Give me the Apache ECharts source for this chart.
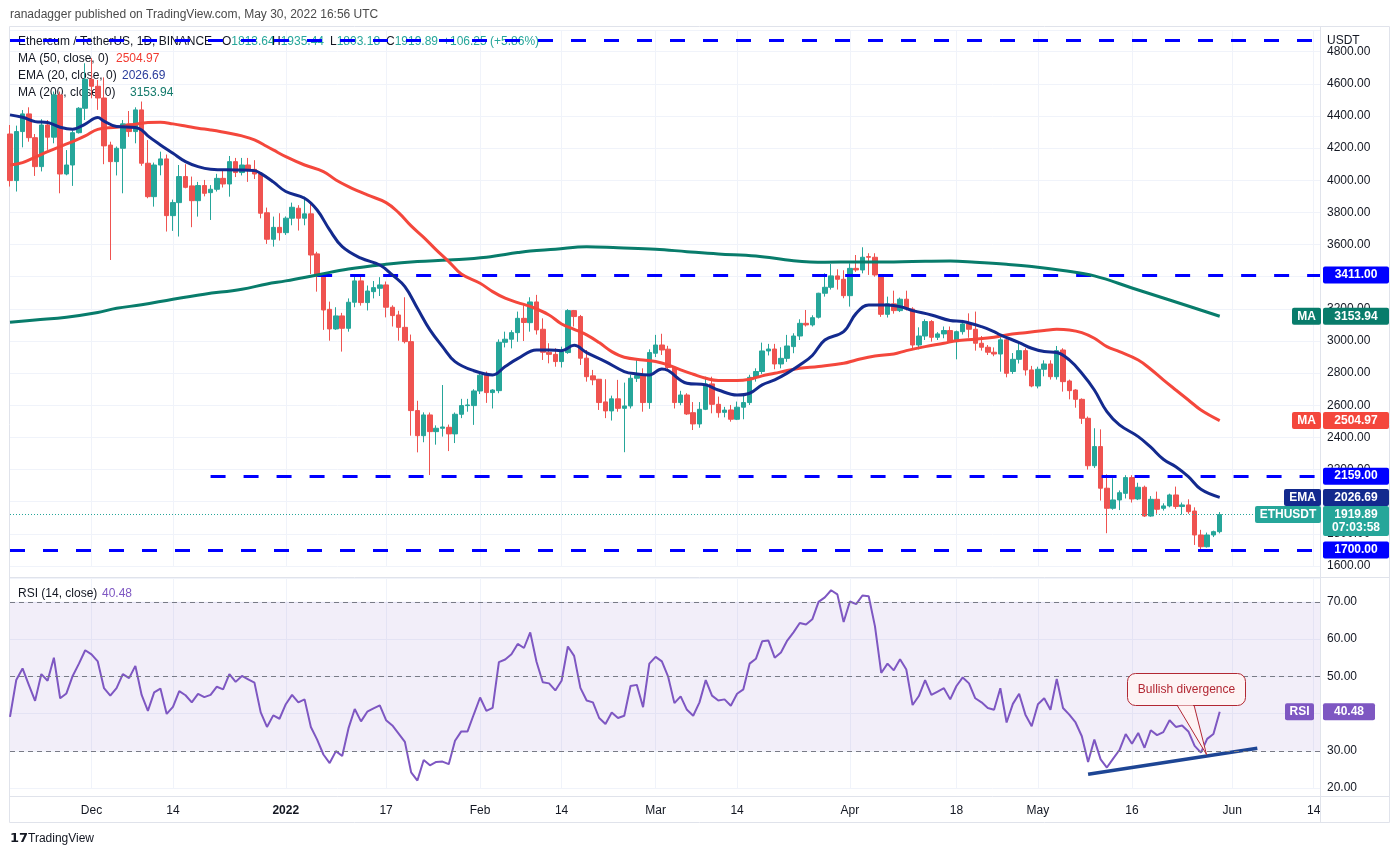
<!DOCTYPE html>
<html>
<head>
<meta charset="utf-8">
<script src="https://cdn.jsdelivr.net/npm/echarts@6/dist/echarts.min.js"></script>
<style>
html,body{margin:0;padding:0;background:#fff}
#chart{width:1392px;height:857px}
</style>
</head>
<body>
<div id="chart"></div>
<script>
// ETH/USDT daily, 18 Nov 2021 -> 30 May 2022
const FONT = 'Liberation Sans, Arial, sans-serif';

const categories = [];
for (let k = 0; k < 210; k++) {
    const d = new Date(Date.UTC(2021, 10, 18 + k));
    categories.push(d.toISOString().slice(0, 10));
}

const tickLabels = [
    ['2021-12-01','Dec'],['2021-12-14','14'],['2022-01-01','2022'],['2022-01-17','17'],
    ['2022-02-01','Feb'],['2022-02-14','14'],['2022-03-01','Mar'],['2022-03-14','14'],
    ['2022-04-01','Apr'],['2022-04-18','18'],['2022-05-01','May'],['2022-05-16','16'],
    ['2022-06-01','Jun'],['2022-06-14','14']
];

const opens = [
    4288,3998,4303,4413,4265,4085,4344,4268,4531,4039,
    4095,4296,4448,4628,4585,4512,4219,4116,4199,4351,
    4303,4438,4106,3898,4095,4133,3780,3861,4023,3965,
    3873,3967,3923,3944,4012,3977,4116,4048,4095,4068,
    4039,3798,3633,3707,3674,3764,3826,3764,3791,3542,
    3411,3197,3075,3156,3079,3241,3374,3239,3307,3328,
    3349,3210,3162,3085,2996,2567,2411,2540,2436,2457,
    2463,2422,2544,2598,2598,2689,2787,2679,2691,2992,
    3011,3052,3141,3114,3243,3073,2930,2917,2872,2928,
    3189,3152,2893,2783,2762,2621,2565,2640,2581,2596,
    2768,2785,2617,2924,2975,2949,2835,2617,2664,2554,
    2484,2575,2733,2606,2556,2571,2513,2588,2617,2774,
    2810,2938,2950,2857,2892,2965,3031,3110,3100,3148,
    3297,3334,3405,3384,3282,3452,3442,3525,3521,3411,
    3166,3231,3189,3260,3199,2975,3031,3121,3023,3044,
    3065,2996,3058,3106,3073,2986,2961,2930,2919,3007,
    2810,2886,2940,2820,2720,2824,2857,2778,2944,2751,
    2695,2637,2519,2224,2343,2084,1959,2011,2052,2150,
    2017,2090,1911,2015,1959,1974,2042,1970,1980,1942,
    1793,1720,1793,1813.64
];
const closes = [
    3998,4303,4413,4265,4085,4344,4268,4531,4039,4095,
    4296,4448,4628,4585,4512,4214,4116,4199,4351,4303,
    4438,4106,3898,4095,4133,3780,3861,4023,3956,3873,
    3967,3919,3944,4012,3977,4116,4048,4095,4064,4039,
    3795,3633,3707,3674,3764,3832,3764,3791,3535,3405,
    3193,3075,3156,3079,3241,3374,3239,3311,3332,3349,
    3210,3158,3085,2996,2567,2411,2540,2436,2457,2465,
    2422,2544,2598,2602,2689,2787,2679,2695,2992,3011,
    3052,3141,3115,3243,3069,2930,2917,2872,2934,3189,
    3152,2893,2778,2758,2617,2565,2640,2581,2596,2768,
    2785,2617,2928,2975,2944,2835,2617,2664,2546,2484,
    2575,2733,2606,2554,2570,2513,2588,2617,2774,2810,
    2938,2950,2857,2892,2969,3031,3110,3100,3145,3297,
    3334,3405,3384,3282,3452,3442,3521,3521,3411,3166,
    3231,3189,3260,3199,2975,3031,3121,3023,3044,3065,
    2996,3058,3106,3073,2986,2961,2930,2919,3007,2799,
    2886,2940,2820,2720,2824,2857,2778,2940,2747,2691,
    2637,2519,2224,2343,2084,1959,2011,2056,2150,2017,
    2090,1911,2015,1953,1974,2042,1970,1980,1938,1793,
    1720,1793,1813.64,1919.89
];
const lows = [
    3961,3930,4205,4240,4027,4055,4189,4230,3919,4031,
    3965,4291,4375,4510,4438,4100,3504,4030,3919,4270,
    4230,4090,3888,3836,4031,3681,3685,3650,3950,3708,
    3774,3900,3753,3930,3955,3898,4020,4030,3990,4008,
    3763,3604,3587,3625,3660,3720,3687,3720,3417,3307,
    3069,3002,3069,2934,3058,3210,3220,3190,3265,3280,
    3147,3090,3002,2985,2411,2307,2370,2166,2355,2405,
    2315,2365,2520,2560,2478,2670,2615,2580,2675,2960,
    2954,2995,3000,3058,3040,2882,2861,2840,2835,2920,
    3090,2851,2747,2725,2571,2520,2505,2560,2308,2580,
    2745,2560,2578,2900,2913,2820,2580,2600,2540,2446,
    2460,2570,2550,2523,2525,2498,2508,2513,2602,2747,
    2795,2910,2824,2830,2870,2924,3006,3090,3090,3140,
    3276,3320,3320,3266,3214,3430,3421,3411,3400,3150,
    3146,3170,3180,3190,2948,2948,3006,2996,3006,3017,
    2990,2886,3040,3020,2940,2940,2913,2905,2809,2774,
    2795,2860,2785,2712,2705,2780,2760,2760,2685,2637,
    2585,2484,2200,2210,2007,1804,1950,1948,2020,1995,
    2010,1905,1906,1925,1945,1965,1955,1920,1925,1731,
    1705,1715,1780,1803.18
];
const highs = [
    4344,4340,4437,4454,4288,4380,4375,4552,4552,4188,
    4310,4455,4728,4760,4624,4640,4240,4210,4375,4431,
    4454,4490,4250,4110,4178,4160,3880,4095,4100,4023,
    3990,4002,3970,4040,4060,4151,4139,4139,4139,4125,
    4043,3830,3774,3795,3775,3861,3845,3898,3853,3555,
    3420,3245,3210,3175,3265,3410,3410,3345,3373,3397,
    3370,3222,3188,3272,3040,2628,2556,2555,2475,2726,
    2480,2555,2640,2640,2700,2805,2810,2700,3010,3058,
    3067,3183,3222,3272,3287,3141,2986,2955,2965,3198,
    3193,3162,2944,2820,2764,2762,2660,2758,2741,2790,
    2886,2830,2948,3038,3045,2970,2840,2690,2675,2620,
    2620,2778,2778,2654,2590,2602,2623,2658,2790,2830,
    2990,2982,2982,2961,3038,3048,3135,3193,3160,3300,
    3421,3479,3446,3440,3483,3535,3583,3546,3546,3415,
    3276,3313,3270,3313,3210,3085,3135,3130,3055,3090,
    3090,3065,3131,3172,3183,3031,2975,2960,3023,3035,
    2925,2986,2955,2845,2840,2880,2880,2969,2955,2760,
    2700,2643,2530,2457,2450,2170,2146,2070,2165,2165,
    2118,2100,2035,2063,1990,2050,2094,1995,2015,1965,
    1825,1808,1820,1935.44
];

// moving averages, read at roughly every second day: [day index, value]
const ema20 = [
    [0,4407],[2,4392],[4,4365],[6,4359],[8,4330],[10,4318],[12,4350],[14,4390],[15,4368],[17,4334],
    [20,4328],[21,4313],[22,4276],[24,4220],[26,4168],[28,4116],[30,4085],[32,4069],[36,4064],[39,4060],
    [40,4043],[42,3990],[44,3930],[47,3888],[49,3815],[51,3691],[53,3587],[56,3515],[59,3473],[61,3411],
    [63,3338],[65,3204],[67,3069],[69,2965],[71,2872],[74,2815],[77,2789],[79,2841],[81,2890],[84,2944],
    [86,2944],[88,2940],[90,2973],[92,2928],[95,2872],[98,2810],[100,2795],[102,2789],[104,2826],[105,2816],
    [108,2737],[111,2727],[113,2695],[116,2664],[118,2675],[120,2727],[122,2758],[124,2800],[126,2850],[128,2910],
    [130,3006],[133,3058],[135,3172],[137,3224],[140,3224],[142,3214],[144,3189],[147,3162],[150,3127],[152,3121],
    [155,3089],[157,3058],[158,3038],[161,2990],[163,2955],[165,2934],[167,2928],[169,2882],[171,2799],[173,2695],
    [175,2560],[177,2478],[180,2405],[182,2339],[184,2264],[186,2218],[188,2156],[190,2077],[193,2026.69]
];
const ma50 = [
    [0,4095],[2,4110],[4,4143],[6,4178],[8,4210],[10,4241],[12,4276],[14,4317],[17,4330],[20,4349],
    [22,4359],[24,4361],[26,4351],[28,4338],[30,4324],[32,4313],[35,4293],[37,4276],[39,4251],[41,4210],
    [42,4189],[44,4147],[47,4095],[50,4054],[52,4002],[54,3961],[57,3909],[60,3861],[62,3799],[64,3716],
    [66,3645],[68,3567],[70,3494],[72,3417],[75,3359],[77,3307],[79,3266],[81,3239],[83,3215],[86,3162],
    [88,3106],[90,3073],[92,3038],[94,2990],[96,2934],[98,2899],[101,2882],[103,2872],[105,2851],[107,2820],
    [109,2793],[111,2768],[113,2754],[116,2754],[118,2762],[120,2783],[122,2799],[124,2816],[126,2830],[129,2841],
    [133,2861],[135,2882],[138,2907],[141,2919],[143,2940],[146,2965],[149,2986],[151,3002],[154,3011],[157,3023],
    [159,3038],[162,3052],[165,3065],[167,3073],[169,3069],[171,3052],[173,3017],[175,2965],[177,2934],[180,2882],
    [182,2824],[184,2758],[186,2695],[188,2633],[190,2571],[193,2504.97]
];
const ma200 = [
    [0,3117],[4,3131],[9,3148],[14,3177],[17,3204],[21,3225],[26,3260],[31,3291],[37,3322],[41,3355],
    [44,3374],[49,3411],[54,3448],[60,3477],[65,3494],[70,3504],[76,3521],[81,3550],[83,3560],[87,3571],
    [92,3587],[97,3580],[103,3571],[108,3556],[113,3542],[119,3529],[125,3500],[130,3490],[135,3492],[141,3492],
    [146,3496],[150,3498],[154,3490],[159,3477],[163,3463],[168,3438],[173,3405],[179,3330],[185,3255],[193,3153.94]
];

const rsi = [
    39.1,49.0,52.1,47.7,43.4,50.6,48.8,55.0,44.1,45.4,
    50.1,53.4,57.0,55.9,54.0,46.8,44.8,46.8,50.6,49.5,
    52.8,45.0,40.7,45.7,46.7,39.9,41.8,46.0,44.9,43.0,
    45.3,44.4,45.0,47.2,46.5,50.6,48.5,50.1,49.2,48.3,
    40.3,36.4,39.5,38.6,42.5,45.0,43.0,43.8,36.4,33.0,
    29.0,26.7,29.9,28.6,36.0,41.2,37.9,40.5,41.4,42.2,
    38.2,36.8,34.6,32.4,24.2,22.0,27.5,26.1,27.0,27.1,
    26.4,32.7,35.2,35.2,39.8,44.3,40.7,41.5,53.8,54.5,
    55.9,58.7,57.6,61.8,53.9,48.4,48.1,46.2,48.8,58.0,
    55.5,46.9,43.5,43.0,38.8,37.2,40.3,38.8,39.4,47.4,
    47.7,41.7,53.4,55.2,54.0,49.9,42.8,44.6,41.0,39.4,
    43.0,49.0,44.8,43.5,43.8,42.1,45.3,46.5,53.4,54.7,
    59.4,59.6,55.0,56.4,59.6,61.8,64.3,63.9,65.3,70.0,
    71.2,73.1,72.0,64.6,70.1,69.4,71.7,71.5,63.4,50.9,
    53.4,51.6,54.6,51.8,42.3,44.7,49.0,45.0,45.9,46.8,
    43.8,47.4,49.7,48.1,44.1,43.0,41.5,41.0,46.8,37.6,
    42.6,45.3,39.7,36.6,42.5,44.1,41.0,49.3,41.5,39.7,
    37.6,33.9,27.0,33.0,27.7,25.5,27.9,30.2,34.5,31.9,
    34.8,30.8,35.5,34.2,35.0,38.2,36.4,36.8,35.2,31.3,
    29.5,33.2,34.5,40.48
];
const rsiTrend = [[172,23.7],[199,30.7]];

// drawn price levels: value and the day they start from
const levelValues = [4870, 3411, 2159, 1700];
const levelStarts = [0, 49, 32, 0];
const lastPrice = 1919.89;

const candles = opens.map((o, i) => [o, closes[i], lows[i], highs[i]]);
const lastCat = categories[categories.length - 1];
const labelMap = Object.fromEntries(tickLabels);
const isTick = (idx, val) => labelMap[val] !== undefined;

const chart = echarts.init(document.getElementById('chart'));

const option = {
    animation: false,
    textStyle: {fontFamily: FONT},
    grid: [
        {left: 10, right: 72, top: 30, height: 536},
        {left: 10, right: 72, top: 578, height: 210}
    ],
    xAxis: [
        {
            type: 'category', gridIndex: 0, data: categories, boundaryGap: false,
            axisLine: {show: false}, axisTick: {show: false}, axisLabel: {show: false},
            splitLine: {show: true, interval: isTick, lineStyle: {color: '#f0f3fa'}}
        },
        {
            type: 'category', gridIndex: 1, data: categories, boundaryGap: false, offset: 8,
            axisLine: {show: true, lineStyle: {color: '#e0e3eb'}}, axisTick: {show: false},
            axisLabel: {
                interval: isTick, color: '#131722', fontSize: 12, margin: 9,
                formatter: v => labelMap[v] === '2022' ? '{b|2022}' : (labelMap[v] || ''),
                rich: {b: {fontWeight: 'bold', fontSize: 12, color: '#131722', fontFamily: FONT}}
            },
            splitLine: {show: true, interval: isTick, lineStyle: {color: '#f0f3fa'}}
        }
    ],
    yAxis: [
        {
            type: 'value', gridIndex: 0, position: 'right', min: 1600, max: 4935, interval: 200,
            axisLine: {show: true, lineStyle: {color: '#e0e3eb'}}, axisTick: {show: false},
            axisLabel: {color: '#131722', fontSize: 12, margin: 7, showMaxLabel: false, formatter: v => v.toFixed(2)},
            splitLine: {lineStyle: {color: '#f0f3fa'}}
        },
        {
            type: 'value', gridIndex: 1, position: 'right', min: 20, max: 76.4, interval: 10,
            axisLine: {show: true, lineStyle: {color: '#e0e3eb'}}, axisTick: {show: false},
            axisLabel: {color: '#131722', fontSize: 12, margin: 7, showMaxLabel: false, formatter: v => v.toFixed(2)},
            splitLine: {lineStyle: {color: '#f0f3fa'}}
        }
    ],
    series: [
        {
            type: 'candlestick', xAxisIndex: 0, yAxisIndex: 0, data: candles, barWidth: 5,
            itemStyle: {color: '#26a69a', color0: '#ef5350', borderColor: '#26a69a', borderColor0: '#ef5350', borderWidth: 1},
            markLine: {
                silent: true, symbol: ['none', 'none'], label: {show: false}, z: 3,
                lineStyle: {color: '#0000ff', width: 3, type: [15, 18]},
                data: levelValues.map((v, k) => [
                    {coord: [categories[levelStarts[k]], v]},
                    {coord: [lastCat, v]}
                ]).concat([[
                    {coord: [categories[0], lastPrice], lineStyle: {color: '#26a69a', width: 1, type: [1, 2]}},
                    {coord: [lastCat, lastPrice]}
                ]])
            }
        },
        {type: 'line', name: 'MA200', xAxisIndex: 0, yAxisIndex: 0, data: ma200, smooth: 0.4, showSymbol: false, z: 3,
         lineStyle: {color: '#087c6b', width: 3}},
        {type: 'line', name: 'MA50', xAxisIndex: 0, yAxisIndex: 0, data: ma50, smooth: 0.4, showSymbol: false, z: 3,
         lineStyle: {color: '#f4473c', width: 3}},
        {type: 'line', name: 'EMA20', xAxisIndex: 0, yAxisIndex: 0, data: ema20, smooth: 0.4, showSymbol: false, z: 4,
         lineStyle: {color: '#132a8e', width: 3}},
        {
            type: 'line', name: 'RSI', xAxisIndex: 1, yAxisIndex: 1, data: rsi, showSymbol: false, z: 3,
            lineStyle: {color: '#7e57c2', width: 2},
            markArea: {silent: true, itemStyle: {color: 'rgba(126,87,194,0.1)'}, data: [[{yAxis: 30}, {yAxis: 70}]]},
            markLine: {
                silent: true, symbol: ['none', 'none'], label: {show: false},
                lineStyle: {color: '#787b86', width: 1, type: [5, 4]},
                data: [{yAxis: 70}, {yAxis: 50}, {yAxis: 30}]
            }
        },
        {type: 'line', name: 'trend', xAxisIndex: 1, yAxisIndex: 1, data: rsiTrend, showSymbol: false, z: 4,
         lineStyle: {color: '#1d4594', width: 3.5}}
    ]
};
chart.setOption(option);

// ---- overlay: texts, frames, price tags
function txt(x, y, text, color, extra) {
    return Object.assign({
        type: 'text', x: x, y: y, z: 1,
        style: {text: text, fill: color, font: '12px ' + FONT, verticalAlign: 'middle', textVerticalAlign: 'middle'}
    }, extra || {});
}
function line(x1, y1, x2, y2, color) {
    return {type: 'line', z: 50, shape: {x1: x1, y1: y1, x2: x2, y2: y2}, style: {stroke: color, lineWidth: 1}};
}
function tag(x, yc, w, h, bg, text) {
    return [
        {type: 'rect', z: 100, shape: {x: x, y: yc - h / 2, width: w, height: h, r: 2}, style: {fill: bg}},
        {type: 'text', z: 101, x: x + w / 2, y: yc, style: {
            text: text, fill: '#fff', font: 'bold 12px ' + FONT, lineHeight: 13,
            align: 'center', textAlign: 'center', verticalAlign: 'middle', textVerticalAlign: 'middle'}}
    ];
}
const py = v => chart.convertToPixel({yAxisIndex: 0}, v);
const ry = v => chart.convertToPixel({yAxisIndex: 1}, v);

let g = [];
g.push(txt(10, 15, 'ranadagger published on TradingView.com, May 30, 2022 16:56 UTC', '#4a4a4a'));
g.push({type: 'rect', z: 0, shape: {x: 9.5, y: 26.5, width: 1380, height: 796}, style: {fill: null, stroke: '#e0e3eb', lineWidth: 1}});
g.push(line(10, 577.5, 1389, 577.5, '#e0e3eb'));
g.push(line(1320.5, 26, 1320.5, 822, '#e0e3eb'));
g.push(line(1320, 796.5, 1389, 796.5, '#e0e3eb'));

g.push(txt(18, 42, 'Ethereum / TetherUS, 1D, BINANCE', '#131722'));
const ohlc = [[222, 'O', '1813.64'], [272, 'H', '1935.44'], [330, 'L', '1803.18'], [386, 'C', '1919.89']];
ohlc.forEach(o => {
    g.push(txt(o[0], 42, '{a|' + o[1] + '}{b|' + o[2] + '}', '#131722', {
        style: {text: '{a|' + o[1] + '}{b|' + o[2] + '}', font: '12px ' + FONT, verticalAlign: 'middle', textVerticalAlign: 'middle',
            rich: {a: {fill: '#131722', color: '#131722', font: '12px ' + FONT}, b: {fill: '#26a69a', color: '#26a69a', font: '12px ' + FONT}}}
    }));
});
g.push(txt(443, 42, '+106.25 (+5.86%)', '#26a69a'));
g.push(txt(18, 59, 'MA (50, close, 0)', '#131722'));
g.push(txt(116, 59, '2504.97', '#f23a30'));
g.push(txt(18, 76, 'EMA (20, close, 0)', '#131722'));
g.push(txt(122, 76, '2026.69', '#2a3d9c'));
g.push(txt(18, 93, 'MA (200, close, 0)', '#131722'));
g.push(txt(130, 93, '3153.94', '#137a6b'));
g.push(txt(18, 594, 'RSI (14, close)', '#131722'));
g.push(txt(102, 594, '40.48', '#7e57c2'));
g.push(txt(1327, 41, 'USDT', '#131722'));

// price-axis tags
g = g.concat(tag(1323, py(3411), 66, 17, '#0000ff', '3411.00'));
g = g.concat(tag(1292, py(3153.94), 29, 17, '#087c6b', 'MA'));
g = g.concat(tag(1323, py(3153.94), 66, 17, '#087c6b', '3153.94'));
g = g.concat(tag(1292, py(2504.97), 29, 17, '#f4473c', 'MA'));
g = g.concat(tag(1323, py(2504.97), 66, 17, '#f4473c', '2504.97'));
g = g.concat(tag(1323, py(2159), 66, 17, '#0000ff', '2159.00'));
g = g.concat(tag(1284, py(2026.69), 37, 17, '#132a8e', 'EMA'));
g = g.concat(tag(1323, py(2026.69), 66, 17, '#132a8e', '2026.69'));
g = g.concat(tag(1255, py(lastPrice), 66, 17, '#26a69a', 'ETHUSDT'));
g = g.concat(tag(1323, py(lastPrice) + 6.5, 66, 30, '#26a69a', '1919.89\n07:03:58'));
g = g.concat(tag(1323, py(1700), 66, 17, '#0000ff', '1700.00'));
g = g.concat(tag(1285, ry(40.48), 29, 17, '#7e57c2', 'RSI'));
g = g.concat(tag(1323, ry(40.48), 52, 17, '#7e57c2', '40.48'));

// callout
g.push({type: 'polyline', z: 60, shape: {points: [[1177, 705], [1206.5, 754.5], [1194, 705]]},
        style: {stroke: '#b22833', fill: '#fdf3f4', lineWidth: 1}});
g.push({type: 'rect', z: 61, shape: {x: 1127.5, y: 673.5, width: 118, height: 32, r: 8},
        style: {fill: '#fdf3f4', stroke: '#b22833', lineWidth: 1}});
g.push({type: 'rect', z: 62, shape: {x: 1178, y: 703, width: 15, height: 2.5}, style: {fill: '#fdf3f4'}});
g.push({type: 'text', z: 63, x: 1186.5, y: 689.5, style: {text: 'Bullish divergence', fill: '#b22833', font: '12px ' + FONT,
        align: 'center', textAlign: 'center', verticalAlign: 'middle', textVerticalAlign: 'middle'}});

// logo
g.push({type: 'text', z: 1, x: 10, y: 839, style: {text: '17', fill: '#131722', font: 'bold 13px DejaVu Sans', verticalAlign: 'middle', textVerticalAlign: 'middle'}});
g.push(txt(28, 839, 'TradingView', '#131722'));

chart.setOption({graphic: g});
</script>
</body>
</html>
